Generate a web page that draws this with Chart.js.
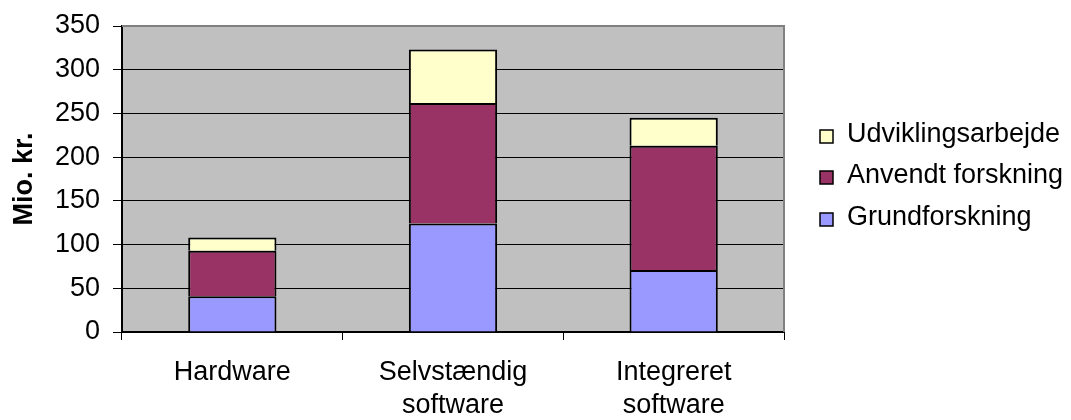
<!DOCTYPE html>
<html>
<head>
<meta charset="utf-8">
<script src="https://cdn.jsdelivr.net/npm/chart.js@4/dist/chart.umd.min.js"></script>
<style>
  html, body { margin: 0; padding: 0; background: #ffffff; }
  #wrap { width: 1071px; height: 420px; }
</style>
</head>
<body>
<div id="wrap"><canvas id="chart" width="1071" height="420"></canvas></div>
<script>
// Forskning og udvikling fordelt på område (mio. kr.)
const categories = [['Hardware'], ['Selvstændig', 'software'], ['Integreret', 'software']];
const seriesNames = ['Grundforskning', 'Anvendt forskning', 'Udviklingsarbejde'];
const grundforskning = [41, 124, 71];
const anvendtForskning = [52, 138, 142];
const udviklingsarbejde = [15, 61, 32];
const yTicks = [0, 50, 100, 150, 200, 250, 300, 350];
const yTitle = 'Mio. kr.';

const FONT = '"Liberation Sans", Arial, Helvetica, sans-serif';
const FONT_SIZE = 27;
const colors = ['#9999FF', '#993366', '#FFFFCC'];

Chart.defaults.font.family = FONT;
Chart.defaults.font.size = FONT_SIZE;
Chart.defaults.color = '#000000';

// Grey plot background with a thin grey frame on the top and right
const plotFrame = {
  id: 'plotFrame',
  beforeDraw(chart) {
    const { ctx, chartArea: a } = chart;
    ctx.save();
    ctx.fillStyle = '#ffffff';
    ctx.fillRect(0, 0, chart.width, chart.height);
    ctx.fillStyle = '#C0C0C0';
    ctx.fillRect(a.left, a.top, a.right - a.left, a.bottom - a.top);
    ctx.restore();
  },
  afterDatasetsDraw(chart) {
    const { ctx, chartArea: a } = chart;
    ctx.save();
    ctx.strokeStyle = '#808080';
    ctx.lineWidth = 2;
    ctx.beginPath();
    ctx.moveTo(a.left, a.top);
    ctx.lineTo(a.right, a.top);
    ctx.lineTo(a.right, a.bottom);
    ctx.stroke();
    ctx.restore();
  }
};

// Legend to the right of the plot, top series listed first
const sideLegend = {
  id: 'sideLegend',
  afterDraw(chart, args, opts) {
    const { ctx, chartArea: a } = chart;
    const items = chart.data.datasets.map(d => ({ label: d.label, color: d.backgroundColor })).reverse();
    const x = a.right + opts.gap;
    const mid = (a.top + a.bottom) / 2 + opts.baselineShift;
    ctx.save();
    ctx.font = FONT_SIZE + 'px ' + FONT;
    ctx.textBaseline = 'alphabetic';
    ctx.textAlign = 'left';
    items.forEach((it, i) => {
      const base = Math.round(mid + (i - (items.length - 1) / 2) * opts.rowHeight);
      const bx = x, by = base - opts.box + 1;
      ctx.fillStyle = it.color;
      ctx.fillRect(bx, by, opts.box, opts.box);
      ctx.strokeStyle = '#000000';
      ctx.lineWidth = 1.5;
      ctx.strokeRect(bx, by, opts.box, opts.box);
      ctx.fillStyle = '#000000';
      ctx.fillText(it.label, x + opts.textOffset, base);
    });
    ctx.restore();
  }
};

const datasets = [grundforskning, anvendtForskning, udviklingsarbejde].map((values, i) => ({
  label: seriesNames[i],
  data: values,
  backgroundColor: colors[i],
  borderColor: '#000000',
  borderWidth: 2,
  inflateAmount: 0,
  barPercentage: 0.4,
  categoryPercentage: 1.0
}));

new Chart(document.getElementById('chart'), {
  type: 'bar',
  data: { labels: categories, datasets },
  plugins: [plotFrame, sideLegend],
  options: {
    responsive: false,
    animation: false,
    devicePixelRatio: 1,
    layout: { padding: { top: 26, right: 287, bottom: 0, left: 0 } },
    plugins: {
      legend: { display: false },
      tooltip: { enabled: false },
      sideLegend: { gap: 36, textOffset: 27, box: 13, rowHeight: 41.7, baselineShift: 4.3 }
    },
    scales: {
      x: {
        stacked: true,
        afterFit(scale) { scale.height = 88; },
        grid: {
          offset: true,
          drawOnChartArea: false,
          drawTicks: true,
          tickLength: 8,
          color: '#000000',
          lineWidth: 1
        },
        border: { display: true, color: '#000000', width: 2 },
        ticks: {
          padding: 16,
          maxRotation: 0,
          autoSkip: false,
          font: { size: FONT_SIZE, lineHeight: 1.23 }
        }
      },
      y: {
        stacked: true,
        min: 0,
        max: 350,
        afterFit(scale) {
          scale.width = 122;
          scale.paddingTop = 0;
          scale.paddingBottom = 0;
        },
        afterBuildTicks(scale) { scale.ticks = yTicks.map(v => ({ value: v })); },
        grid: {
          color: ctx => (ctx.tick && ctx.tick.value === 350 ? '#808080' : '#000000'),
          tickColor: '#000000',
          lineWidth: 1,
          tickLength: 9
        },
        border: { display: true, color: '#000000', width: 2 },
        ticks: { padding: 13, font: { size: FONT_SIZE } },
        title: {
          display: true,
          text: yTitle,
          font: { size: FONT_SIZE, weight: 'bold' },
          padding: { top: 8, bottom: 0 }
        }
      }
    }
  }
});
</script>
</body>
</html>
